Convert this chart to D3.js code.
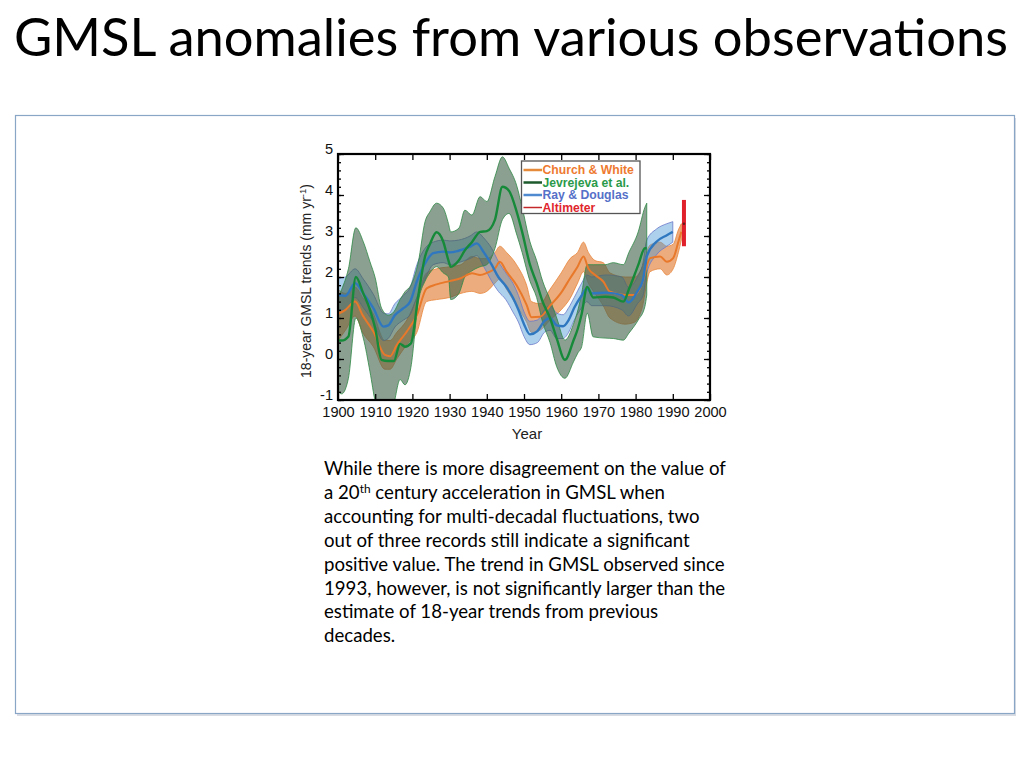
<!DOCTYPE html>
<html>
<head>
<meta charset="utf-8">
<script src="https://cdn.jsdelivr.net/npm/d3@7"></script>
<style>
  body { margin: 0; background: #fff; }
  svg { display: block; }
</style>
</head>
<body>
<svg id="slide" width="1024" height="768"></svg>
<script>
// values (mm/yr, 18-year trends)
const cwYears = [1900, 1902, 1904.6, 1906.6, 1909.5, 1912.6, 1914, 1915.8, 1918.5, 1921.2, 1923.8, 1926.5, 1930, 1933, 1936, 1938.2, 1940, 1942.2, 1943.5, 1945.3, 1948, 1950.7, 1952, 1954.3, 1957, 1960, 1962.4, 1964.4, 1966, 1967.3, 1969.1, 1971.3, 1973.1, 1977.2, 1979.8, 1981.6, 1983.9, 1986.6, 1988.4, 1990.1, 1991.5, 1992.3];
const cwMid = [1.1, 1.2, 1.4, 1.07, 0.67, 0.1, 0.07, 0.34, 0.67, 1.07, 1.72, 1.82, 1.9, 1.97, 2.09, 2.05, 2.1, 2.21, 2.37, 2.13, 1.8, 1.32, 1.02, 1.03, 1.3, 1.62, 1.97, 2.25, 2.5, 2.21, 2.05, 1.89, 1.64, 1.56, 1.56, 1.8, 2.46, 2.5, 2.37, 2.46, 2.86, 3.1];
const cwHi = [1.7, 1.6, 1.75, 1.5, 1.1, 0.45, 0.45, 0.65, 0.95, 1.5, 2.1, 2.2, 2.25, 2.3, 2.5, 2.45, 2.45, 2.6, 2.75, 2.6, 2.3, 1.8, 1.4, 1.35, 1.7, 2.1, 2.45, 2.6, 2.85, 2.6, 2.4, 2.35, 2.1, 2.0, 2.0, 2.2, 2.78, 2.85, 2.75, 2.8, 3.15, 3.3];
const cwLo = [0.45, 0.7, 1.05, 0.65, 0.3, -0.25, -0.25, 0.0, 0.35, 0.65, 1.4, 1.45, 1.5, 1.6, 1.65, 1.6, 1.65, 1.85, 1.95, 1.7, 1.3, 0.9, 0.65, 0.7, 0.95, 1.2, 1.48, 1.85, 2.13, 1.85, 1.6, 1.3, 1.0, 0.85, 0.9, 1.2, 2.13, 2.2, 2.05, 2.2, 2.6, 2.9];

const jeYears = [1900, 1901, 1902.8, 1904.8, 1906.8, 1908.6, 1910, 1911.7, 1913.5, 1915, 1916.7, 1918, 1919.6, 1921.6, 1923.4, 1924.7, 1926.5, 1928.3, 1929.7, 1930.3, 1932.5, 1934.1, 1936, 1938.2, 1940, 1942.2, 1944.2, 1946, 1948, 1949.5, 1951.6, 1953.4, 1955, 1957, 1958.8, 1961, 1963.3, 1964.5, 1965.5, 1967, 1968.6, 1971.8, 1974, 1976.7, 1978.2, 1980.7, 1982.5, 1983];
const jeMid = [0.45, 0.45, 0.55, 2.0, 1.6, 1.2, 0.75, -0.02, -0.05, -0.05, 0.37, 0.3, 0.38, 1.55, 2.5, 2.8, 3.09, 2.86, 2.4, 2.25, 2.41, 2.65, 2.85, 3.1, 3.12, 3.4, 4.2, 4.1, 3.6, 3.1, 2.3, 1.85, 1.4, 1.0, 0.5, -0.02, 0.45, 0.75, 1.1, 1.76, 1.5, 1.52, 1.5, 1.4, 1.7, 2.29, 2.7, 2.7];
const jeHi = [1.5, 1.7, 2.2, 3.2, 2.86, 2.37, 1.98, 1.24, 1.07, 1.15, 1.45, 1.64, 1.8, 2.37, 3.35, 3.59, 3.8, 3.68, 3.3, 3.1, 3.19, 3.63, 3.51, 3.96, 3.84, 4.45, 4.93, 4.65, 4.24, 3.7, 2.86, 2.4, 1.9, 1.45, 1.0, 0.46, 0.85, 1.2, 1.6, 2.3, 2.3, 2.3, 2.35, 2.3, 2.6, 3.1, 3.7, 3.8];
const jeLo = [-0.8, -0.85, -0.47, 1.0, 0.51, -0.31, -1.04, -1.5, -1.5, -1.1, -0.5, -0.63, -0.2, 1.4, 1.9, 2.1, 2.25, 2.1, 2.0, 1.45, 1.6, 2.0, 2.15, 2.25, 2.3, 2.7, 3.4, 3.55, 3.05, 2.6, 1.9, 1.5, 0.9, 0.4, -0.19, -0.47, -0.07, 0.15, 0.3, 1.12, 0.54, 0.51, 0.5, 0.46, 0.63, 0.95, 1.28, 1.56];

const rdYears = [1900, 1902, 1904.6, 1906.8, 1909.5, 1912.2, 1913.5, 1915.3, 1917.6, 1919.4, 1921.2, 1923.4, 1925.6, 1928.3, 1930.1, 1932.4, 1935.5, 1937.3, 1939.2, 1941.3, 1943.1, 1945.1, 1947, 1948.5, 1950, 1951.6, 1953.6, 1955.5, 1957, 1958.8, 1960.5, 1962, 1963.5, 1965.5, 1966.9, 1968.2, 1972, 1976.3, 1978.1, 1980.5, 1982, 1983, 1985.6, 1988.4, 1990];
const rdMid = [1.56, 1.54, 1.85, 1.6, 1.24, 0.79, 0.82, 1.07, 1.24, 1.4, 1.89, 2.33, 2.58, 2.62, 2.6, 2.64, 2.74, 2.82, 2.6, 2.3, 2.0, 1.78, 1.5, 1.2, 0.85, 0.6, 0.68, 0.93, 1.0, 0.82, 0.8, 0.95, 1.25, 1.55, 1.72, 1.6, 1.62, 1.56, 1.38, 1.65, 1.93, 2.5, 2.86, 3.02, 3.1];
const rdHi = [1.97, 2.0, 2.2, 1.95, 1.58, 1.12, 1.1, 1.35, 1.55, 1.75, 2.3, 2.7, 2.85, 2.9, 2.88, 2.9, 3.0, 3.1, 2.95, 2.7, 2.38, 2.1, 1.85, 1.55, 1.15, 0.92, 0.95, 1.2, 1.3, 1.12, 1.08, 1.25, 1.5, 1.85, 2.05, 2.0, 2.05, 2.0, 1.75, 2.0, 2.35, 2.9, 3.17, 3.3, 3.35];
const rdLo = [1.2, 1.2, 1.5, 1.25, 0.9, 0.45, 0.5, 0.78, 0.95, 1.08, 1.5, 1.95, 2.3, 2.35, 2.3, 2.35, 2.45, 2.52, 2.25, 1.9, 1.65, 1.45, 1.15, 0.9, 0.55, 0.35, 0.4, 0.65, 0.7, 0.5, 0.5, 0.65, 0.95, 1.25, 1.4, 1.3, 1.3, 1.2, 1.05, 1.35, 1.55, 2.1, 2.54, 2.75, 2.85];

const altYear = 1993;
const altMid = 3.3;
const altLo = 2.75;
const altHi = 3.88;

const legendNames = ["Church & White", "Jevrejeva et al.", "Ray & Douglas", "Altimeter"];
const xTicks = [1900, 1910, 1920, 1930, 1940, 1950, 1960, 1970, 1980, 1990, 2000];
const yTicks = [-1, 0, 1, 2, 3, 4, 5];

const bodyLines = [
  ["While there is more disagreement on the value of"],
  ["a 20", "th", " century acceleration in GMSL when"],
  ["accounting for multi-decadal fluctuations, two"],
  ["out of three records still indicate a significant"],
  ["positive value. The trend in GMSL observed since"],
  ["1993, however, is not significantly larger than the"],
  ["estimate of 18-year trends from previous"],
  ["decades."],
];

const svg = d3.select("#slide");
const bodyFont = "Lato, 'Open Sans', sans-serif";
const chartFont = "'Liberation Sans', Arial, sans-serif";

// slide title
const title = svg
  .append("text")
  .attr("x", 14)
  .attr("y", 56)
  .attr("font-family", bodyFont)
  .attr("font-size", 54)
  .attr("fill", "#000")
  .text("GMSL anomalies from various observations");
const titleLen = title.node().getComputedTextLength();
title.attr("font-size", (54 * 994) / titleLen);

// content panel
svg
  .append("rect")
  .attr("x", 17)
  .attr("y", 118)
  .attr("width", 999)
  .attr("height", 598)
  .attr("fill", "#d9dde3");
svg
  .append("rect")
  .attr("x", 15.5)
  .attr("y", 115.5)
  .attr("width", 999)
  .attr("height", 598)
  .attr("fill", "#fff")
  .attr("stroke", "#8aa6c6")
  .attr("stroke-width", 1.2);

// chart
const plot = { left: 338, top: 154, width: 372, height: 246 };

const xScale = d3
  .scaleLinear()
  .domain([1900, 2000])
  .range([plot.left, plot.left + plot.width]);
const yScale = d3
  .scaleLinear()
  .domain([-1, 5])
  .range([plot.top + plot.height, plot.top]);

const series = [
  { years: cwYears, mid: cwMid, lo: cwLo, hi: cwHi, fill: "#e07020", fillOpacity: 0.58, edge: "#e8863a", line: "#e8782a", lw: 2 },
  { years: rdYears, mid: rdMid, lo: rdLo, hi: rdHi, fill: "#4a9ad8", fillOpacity: 0.45, edge: "#6a78c8", line: "#2f78c0", lw: 2.4 },
  { years: jeYears, mid: jeMid, lo: jeLo, hi: jeHi, fill: "#40604a", fillOpacity: 0.6, edge: "#2f8a45", line: "#178a3a", lw: 2.4 },
];

svg
  .append("defs")
  .append("clipPath")
  .attr("id", "plotClip")
  .append("rect")
  .attr("x", plot.left)
  .attr("y", plot.top)
  .attr("width", plot.width)
  .attr("height", plot.height);

const gBands = svg.append("g").attr("clip-path", "url(#plotClip)");
const gLines = svg.append("g").attr("clip-path", "url(#plotClip)");

const area = d3
  .area()
  .curve(d3.curveMonotoneX)
  .x((d) => xScale(d.year))
  .y0((d) => yScale(d.lo))
  .y1((d) => yScale(d.hi));

const line = d3
  .line()
  .curve(d3.curveMonotoneX)
  .x((d) => xScale(d.year))
  .y((d) => yScale(d.v));

series.forEach((s) => {
  const rows = s.years.map((year, i) => ({ year, lo: s.lo[i], hi: s.hi[i], v: s.mid[i] }));
  gBands
    .append("path")
    .datum(rows)
    .attr("d", area)
    .attr("fill", s.fill)
    .attr("fill-opacity", s.fillOpacity)
    .attr("stroke", s.edge)
    .attr("stroke-width", 0.9)
    .attr("stroke-opacity", 0.9);
  s.rows = rows;
});

series.forEach((s) => {
  gLines
    .append("path")
    .datum(s.rows)
    .attr("d", line)
    .attr("fill", "none")
    .attr("stroke", s.line)
    .attr("stroke-width", s.lw)
    .attr("stroke-linejoin", "round");
});

// altimeter trend with its uncertainty
svg
  .append("line")
  .attr("x1", xScale(altYear))
  .attr("x2", xScale(altYear))
  .attr("y1", yScale(altHi))
  .attr("y2", yScale(altLo))
  .attr("stroke", "#e0202a")
  .attr("stroke-width", 4);
svg
  .append("circle")
  .attr("cx", xScale(altYear))
  .attr("cy", yScale(altMid))
  .attr("r", 1.3)
  .attr("fill", "#6a1a1a");

// axes: ticks point inward on all four sides
const minorY = d3.range(-1, 5.001, 0.2);
const plainInt = (d) => String(d);

const gx = svg.append("g").attr("transform", `translate(0,${plot.top + plot.height})`);
gx.call(d3.axisBottom(xScale).tickValues(xTicks).tickSize(-6).tickPadding(6).tickFormat(plainInt));

const gxTop = svg.append("g").attr("transform", `translate(0,${plot.top})`);
gxTop.call(d3.axisTop(xScale).tickValues(xTicks).tickSize(-6).tickFormat(""));

const gy = svg.append("g").attr("transform", `translate(${plot.left},0)`);
gy.call(d3.axisLeft(yScale).tickValues(yTicks).tickSize(-6).tickPadding(5).tickFormat(plainInt));
const gyMinor = svg.append("g").attr("transform", `translate(${plot.left},0)`);
gyMinor.call(d3.axisLeft(yScale).tickValues(minorY).tickSize(-3).tickFormat(""));

const gyRight = svg.append("g").attr("transform", `translate(${plot.left + plot.width},0)`);
gyRight.call(d3.axisRight(yScale).tickValues(yTicks).tickSize(-6).tickFormat(""));
const gyRightMinor = svg.append("g").attr("transform", `translate(${plot.left + plot.width},0)`);
gyRightMinor.call(d3.axisRight(yScale).tickValues(minorY).tickSize(-3).tickFormat(""));

[gx, gxTop, gy, gyMinor, gyRight, gyRightMinor].forEach((g) => {
  g.select(".domain").remove();
  g.selectAll(".tick line").attr("stroke", "#000").attr("stroke-width", 1.3);
  g.selectAll("text")
    .attr("font-family", chartFont)
    .attr("font-size", 14.6)
    .attr("fill", "#111");
});
gy.selectAll(".tick text").attr("dy", "-0.05em");
gx.selectAll(".tick text").attr("dy", "0.76em");

svg
  .append("rect")
  .attr("x", plot.left)
  .attr("y", plot.top)
  .attr("width", plot.width)
  .attr("height", plot.height)
  .attr("fill", "none")
  .attr("stroke", "#000")
  .attr("stroke-width", 2.2);

// axis titles
svg
  .append("text")
  .attr("x", 527)
  .attr("y", 439)
  .attr("text-anchor", "middle")
  .attr("font-family", chartFont)
  .attr("font-size", 15)
  .attr("fill", "#222")
  .text("Year");

const yTitle = svg
  .append("text")
  .attr("transform", "translate(311,281) rotate(-90)")
  .attr("text-anchor", "middle")
  .attr("font-family", chartFont)
  .attr("font-size", 14)
  .attr("fill", "#222");
yTitle.append("tspan").text("18-year GMSL trends (mm yr");
yTitle.append("tspan").attr("dy", -5).attr("font-size", 9.5).text("-1");
yTitle.append("tspan").attr("dy", 5).text(")");

// legend
const legendColors = ["#e58a3a", "#1d5a2c", "#4f8ad0", "#c4282a"];
const legendText = ["#ee7a30", "#2a9a4a", "#5570c8", "#e0252d"];
const gLeg = svg.append("g");
gLeg
  .append("rect")
  .attr("x", 521.5)
  .attr("y", 161)
  .attr("width", 118.5)
  .attr("height", 52.5)
  .attr("fill", "#fff")
  .attr("stroke", "#555")
  .attr("stroke-width", 1.3);
legendNames.forEach((name, i) => {
  const cy = 170 + i * 12.5;
  gLeg
    .append("line")
    .attr("x1", 523.5)
    .attr("x2", 542)
    .attr("y1", cy)
    .attr("y2", cy)
    .attr("stroke", legendColors[i])
    .attr("stroke-width", i === 3 ? 1.5 : 2.5);
  gLeg
    .append("text")
    .attr("x", 542.5)
    .attr("y", cy + 4.3)
    .attr("font-family", chartFont)
    .attr("font-weight", "bold")
    .attr("font-size", 12.2)
    .attr("fill", legendText[i])
    .text(name);
});

// body text
const gBody = svg.append("g");
bodyLines.forEach((parts, i) => {
  const t = gBody
    .append("text")
    .attr("class", "body-line")
    .attr("x", 324)
    .attr("y", 475 + i * 23.9)
    .attr("font-family", bodyFont)
    .attr("font-size", 16.5)
    .attr("fill", "#000");
  parts.forEach((p, j) => {
    if (parts.length === 3 && j === 1) {
      t.append("tspan").attr("dy", -6).attr("font-size", 10.5).text(p);
    } else if (parts.length === 3 && j === 2) {
      t.append("tspan").attr("dy", 6).text(p);
    } else {
      t.append("tspan").text(p);
    }
  });
});
const firstLen = gBody.select(".body-line").node().getComputedTextLength();
const bodySize = (16.5 * 402) / firstLen;
gBody.selectAll(".body-line").attr("font-size", bodySize);
gBody.selectAll(".body-line tspan[dy='-6']").attr("font-size", bodySize * 0.64);
</script>
</body>
</html>
